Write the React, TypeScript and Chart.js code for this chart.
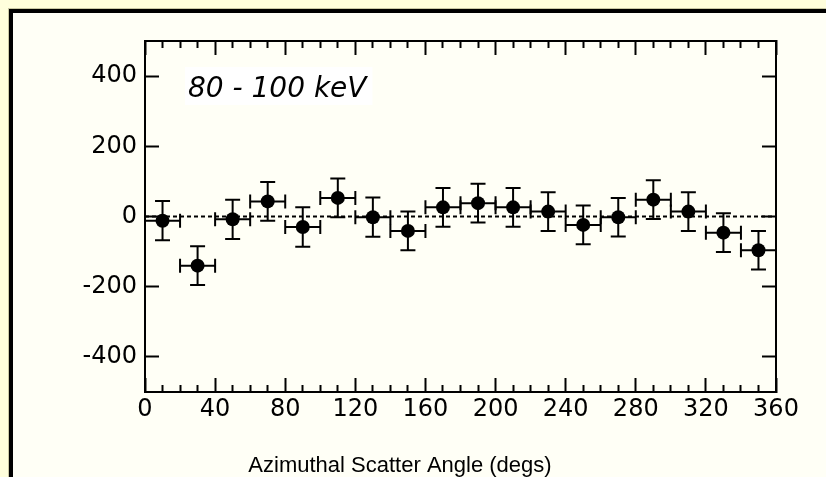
import React, { useEffect, useRef } from "react";
import { Chart, registerables } from "chart.js";

Chart.register(...registerables);

// ---- data ----
const ANGLES = [10, 30, 50, 70, 90, 110, 130, 150, 170, 190, 210, 230, 250, 270, 290, 310, 330, 350];
const COUNTS = [-12, -140, -8, 43, -30, 53, -2, -41, 26, 38, 26, 14, -24, -2, 48, 14, -46, -96];
const COUNT_ERR = [56, 55, 56, 55, 56, 55, 56, 55, 55, 55, 55, 55, 55, 55, 55, 55, 55, 55];
const ANGLE_ERR = [10, 10, 10, 10, 10, 10, 10, 10, 10, 10, 10, 10, 10, 10, 10, 10, 10, 10];

const X_MAJOR_TICKS = [0, 40, 80, 120, 160, 200, 240, 280, 320, 360];
const X_MINOR_TICKS = [10, 20, 30, 50, 60, 70, 90, 100, 110, 130, 140, 150, 170, 180, 190, 210, 220, 230, 250, 260, 270, 290, 300, 310, 330, 340, 350];
const Y_MAJOR_TICKS = [-400, -200, 0, 200, 400];
const ZERO_LINE_X = [0, 360];

const X_TITLE = "Azimuthal Scatter Angle (degs)";
const ENERGY_LABEL = "80 - 100 keV";

const TICK_FONT = { family: "'DejaVu Sans', 'Liberation Sans', sans-serif", size: 24 };
const TITLE_FONT = {
  family: "'Liberation Sans', Arial, Helvetica, sans-serif",
  size: 22,
  weight: "normal",
};
const TITLE_LINE = 26.4;

const setTicks = (vals: number[]) => (scale: any) => {
  scale.ticks = vals.map((v) => ({ value: v }));
};

const errorBarPlugin = {
  id: "errorBars",
  afterDatasetsDraw(chart: any) {
    const { ctx } = chart;
    const xs = chart.scales.x;
    const ys = chart.scales.y;
    ctx.save();
    ctx.strokeStyle = "#000";
    ctx.lineWidth = 2;
    const capV = 7.5;
    const capH = 7;
    for (let i = 0; i < ANGLES.length; i++) {
      const cx = xs.getPixelForValue(ANGLES[i]);
      const cy = ys.getPixelForValue(COUNTS[i]);
      const yTop = ys.getPixelForValue(COUNTS[i] + COUNT_ERR[i]);
      const yBot = ys.getPixelForValue(COUNTS[i] - COUNT_ERR[i]);
      const xL = xs.getPixelForValue(ANGLES[i] - ANGLE_ERR[i]);
      const xR = xs.getPixelForValue(ANGLES[i] + ANGLE_ERR[i]);
      ctx.beginPath();
      ctx.moveTo(cx, yTop);
      ctx.lineTo(cx, yBot);
      ctx.moveTo(cx - capV, yTop);
      ctx.lineTo(cx + capV, yTop);
      ctx.moveTo(cx - capV, yBot);
      ctx.lineTo(cx + capV, yBot);
      ctx.moveTo(xL, cy);
      ctx.lineTo(xR, cy);
      ctx.moveTo(xL, cy - capH);
      ctx.lineTo(xL, cy + capH);
      ctx.moveTo(xR, cy - capH);
      ctx.lineTo(xR, cy + capH);
      ctx.stroke();
    }
    ctx.restore();
  },
};

const labelPlugin = {
  id: "energyLabel",
  afterDraw(chart: any) {
    const { ctx, chartArea } = chart;
    const x = chartArea.left + 43;
    const y = chartArea.top + 56;
    ctx.save();
    ctx.font = "italic 28px 'DejaVu Sans', sans-serif";
    const w = ctx.measureText(ENERGY_LABEL).width;
    ctx.fillStyle = "#ffffff";
    ctx.fillRect(x - 3, y - 30, w + 9, 38);
    ctx.fillStyle = "#000";
    ctx.textBaseline = "alphabetic";
    ctx.textAlign = "left";
    ctx.fillText(ENERGY_LABEL, x, y);
    ctx.restore();
  },
};

export default function App() {
  const canvasRef = useRef<HTMLCanvasElement | null>(null);

  useEffect(() => {
    if (!canvasRef.current) return;
    const black = "#000";
    const chart = new Chart(canvasRef.current, {
      type: "scatter",
      data: {
        datasets: [
          {
            label: "zero",
            data: ZERO_LINE_X.map((x) => ({ x, y: 0 })),
            showLine: true,
            borderColor: black,
            borderWidth: 2,
            borderDash: [4, 3],
            pointRadius: 0,
          } as any,
          {
            label: "counts",
            data: ANGLES.map((a, i) => ({ x: a, y: COUNTS[i] })),
            backgroundColor: black,
            borderColor: black,
            pointRadius: 7,
            pointBorderWidth: 0,
          },
        ],
      },
      options: {
        animation: false,
        responsive: false,
        maintainAspectRatio: false,
        layout: { padding: { left: 0, top: 0, bottom: 0, right: 26 } },
        plugins: {
          legend: { display: false },
          tooltip: { enabled: false },
          title: {
            display: true,
            position: "bottom",
            text: X_TITLE,
            font: { ...TITLE_FONT, lineHeight: 1.2 },
            color: black,
            padding: { top: 2, bottom: -2 },
          },
        },
        scales: {
          xMinor: {
            type: "linear",
            position: "bottom",
            weight: 0,
            min: 0,
            max: 360,
            afterBuildTicks: setTicks(X_MINOR_TICKS),
            ticks: { display: false },
            grid: { drawOnChartArea: false, drawTicks: true, tickLength: -7, tickColor: black, tickWidth: 2 },
            border: { display: false },
            afterFit: (s: any) => { s.height = 0; },
          },
          x: {
            type: "linear",
            position: "bottom",
            weight: 1,
            min: 0,
            max: 360,
            afterBuildTicks: setTicks(X_MAJOR_TICKS),
            ticks: { font: TICK_FONT, color: black, padding: 17, maxRotation: 0, autoSkip: false },
            grid: { drawOnChartArea: false, drawTicks: true, tickLength: -14, tickColor: black, tickWidth: 2 },
            border: { display: true, color: black, width: 2 },
            afterFit: (s: any) => { s.height = 85 - TITLE_LINE; },
          },
          xTopMinor: {
            type: "linear",
            position: "top",
            weight: 0,
            min: 0,
            max: 360,
            afterBuildTicks: setTicks(X_MINOR_TICKS),
            ticks: { display: false },
            grid: { drawOnChartArea: false, drawTicks: true, tickLength: -7, tickColor: black, tickWidth: 2 },
            border: { display: false },
            afterFit: (s: any) => { s.height = 0; },
          },
          xTop: {
            type: "linear",
            position: "top",
            weight: 1,
            min: 0,
            max: 360,
            afterBuildTicks: setTicks(X_MAJOR_TICKS),
            ticks: { display: false },
            grid: { drawOnChartArea: false, drawTicks: true, tickLength: -14, tickColor: black, tickWidth: 2 },
            border: { display: true, color: black, width: 2 },
            afterFit: (s: any) => { s.height = 41; },
          },
          y: {
            type: "linear",
            position: "left",
            min: -500,
            max: 500,
            afterBuildTicks: setTicks(Y_MAJOR_TICKS),
            ticks: { font: TICK_FONT, color: black, padding: 22 },
            grid: { drawOnChartArea: false, drawTicks: true, tickLength: -14, tickColor: black, tickWidth: 2 },
            border: { display: true, color: black, width: 2 },
            afterFit: (s: any) => { s.width = 145; },
          },
          yRight: {
            type: "linear",
            position: "right",
            min: -500,
            max: 500,
            afterBuildTicks: setTicks(Y_MAJOR_TICKS),
            ticks: { display: false },
            grid: { drawOnChartArea: false, drawTicks: true, tickLength: -14, tickColor: black, tickWidth: 2 },
            border: { display: true, color: black, width: 2 },
            afterFit: (s: any) => { s.width = 24; },
          },
        },
      } as any,
      plugins: [errorBarPlugin, labelPlugin],
    });
    return () => chart.destroy();
  }, []);

  return (
    <div style={{ position: "fixed", left: 0, top: 0, width: 826, height: 477, background: "#FFFEDC", overflow: "hidden" }}>
      <div
        style={{
          position: "absolute",
          left: 9,
          top: 9,
          width: 900,
          height: 600,
          borderLeft: "4px solid #000",
          borderTop: "4px solid #000",
          boxShadow: "-1px -1px 0 #C9C7A4",
          background: "#FFFFF6",
        }}
      />
      <canvas ref={canvasRef} width={826} height={477} style={{ position: "absolute", left: 0, top: 0, width: 826, height: 477 }} />
    </div>
  );
}
